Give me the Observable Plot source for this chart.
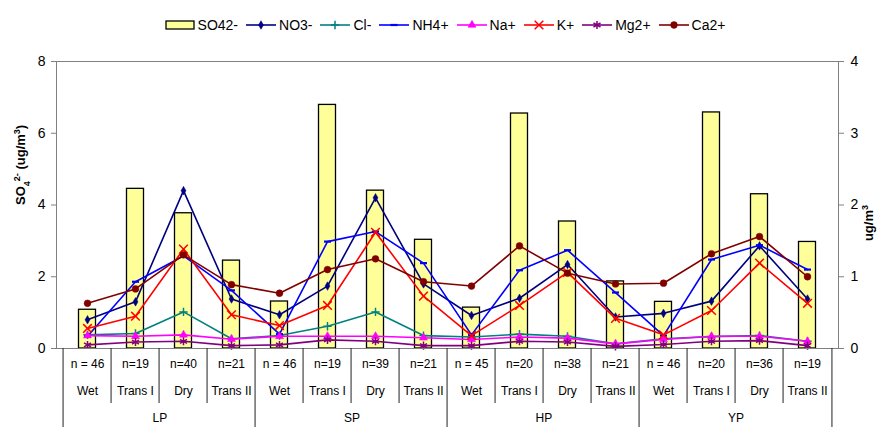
<!DOCTYPE html>
<html><head><meta charset="utf-8">
<script src="https://cdn.jsdelivr.net/npm/d3@7"></script>
<script src="https://cdn.jsdelivr.net/npm/@observablehq/plot@0.6"></script>
<style>
body{margin:0;background:#fff;font-family:"Liberation Sans",Arial,sans-serif;}
#legend{height:45px;display:flex;align-items:center;justify-content:center;padding-left:14px;padding-top:4px;box-sizing:border-box;font-size:14px;color:#000;}
.item{display:flex;align-items:center;margin-right:7px;}
.item svg{margin-right:2px;}
</style></head><body>
<div id="legend"></div>
<div id="chart"></div>
<script>
// ---- data ----
const sites = ["LP", "SP", "HP", "YP"];
const seasons = ["Wet", "Trans I", "Dry", "Trans II"];
const nLabels = ["n = 46","n=19","n=40","n=21","n = 46","n=19","n=39","n=21","n = 45","n=20","n=38","n=21","n = 46","n=20","n=36","n=19"];
const so4  = [1.08, 4.45, 3.77, 2.45, 1.31, 6.79, 4.40, 3.03, 1.14, 6.55, 3.54, 1.87, 1.30, 6.58, 4.30, 2.97];
const no3  = [0.40, 0.65, 2.20, 0.69, 0.47, 0.87, 2.10, 0.90, 0.46, 0.70, 1.17, 0.44, 0.49, 0.66, 1.43, 0.69];
const cl   = [0.19, 0.21, 0.51, 0.135, 0.18, 0.31, 0.51, 0.18, 0.16, 0.20, 0.17, 0.065, 0.135, 0.165, 0.18, 0.10];
const nh4  = [0.17, 0.93, 1.29, 0.81, 0.20, 1.49, 1.63, 1.19, 0.19, 1.09, 1.37, 0.78, 0.18, 1.24, 1.44, 1.10];
const na   = [0.18, 0.17, 0.19, 0.13, 0.17, 0.17, 0.17, 0.15, 0.125, 0.16, 0.145, 0.065, 0.125, 0.17, 0.17, 0.10];
const k    = [0.28, 0.45, 1.385, 0.47, 0.32, 0.60, 1.62, 0.73, 0.18, 0.60, 1.06, 0.42, 0.19, 0.53, 1.19, 0.63];
const mg   = [0.05, 0.09, 0.10, 0.04, 0.05, 0.12, 0.10, 0.04, 0.04, 0.10, 0.09, 0.03, 0.055, 0.10, 0.11, 0.04];
const ca   = [0.63, 0.83, 1.305, 0.89, 0.77, 1.10, 1.25, 0.93, 0.87, 1.43, 1.05, 0.90, 0.91, 1.32, 1.56, 1.00];
const ionNames = ["NO3-", "Cl-", "NH4+", "Na+", "K+", "Mg2+", "Ca2+"];
const ionValues = [no3, cl, nh4, na, k, mg, ca];

// ---- styles ----
const dash = {draw(ctx, size) { const w = Math.sqrt(size) * 0.9; ctx.moveTo(-w, 0); ctx.lineTo(w, 0); }};
const ionStyle = {
  "NO3-": {color: "#000080", symbol: "diamond", d3sym: d3.symbolDiamond, r: 2.6, filled: true},
  "Cl-":  {color: "#008080", symbol: "plus", d3sym: d3.symbolPlus, r: 2.8, filled: false},
  "NH4+": {color: "#0000FF", symbol: dash, d3sym: dash, r: 2.2, filled: false},
  "Na+":  {color: "#FF00FF", symbol: "triangle", d3sym: d3.symbolTriangle, r: 3.0, filled: true},
  "K+":   {color: "#FF0000", symbol: "times", d3sym: d3.symbolTimes, r: 4.0, filled: false},
  "Mg2+": {color: "#800080", symbol: "asterisk", d3sym: d3.symbolAsterisk, r: 3.8, filled: false},
  "Ca2+": {color: "#800000", symbol: "circle", d3sym: d3.symbolCircle, r: 3.4, filled: true}
};

const W = 882, H = 382, mL = 56, mR = 44, mT = 16, mB = 79;
const bw = (W - mL - mR) / 16;

const keys = sites.flatMap(s => seasons.map(se => s + "|" + se));
const rows = keys.map((key, i) => ({key, site: key.split("|")[0], season: key.split("|")[1], n: nLabels[i], so4: so4[i]}));

// ---- legend ----
const legend = d3.select("#legend");
{
  const it = legend.append("div").attr("class", "item");
  const s = it.append("svg").attr("width", 32).attr("height", 14);
  s.append("rect").attr("x", 2).attr("y", 3).attr("width", 28).attr("height", 8)
    .attr("fill", "#FFFF99").attr("stroke", "#000").attr("stroke-width", 1.3);
  it.append("span").text("SO42-");
}
ionNames.forEach(name => {
  const st = ionStyle[name];
  const it = legend.append("div").attr("class", "item");
  const s = it.append("svg").attr("width", 32).attr("height", 14);
  s.append("line").attr("x1", 1).attr("x2", 31).attr("y1", 7).attr("y2", 7)
    .attr("stroke", st.color).attr("stroke-width", 1.6);
  s.append("path").attr("transform", "translate(16,7)")
    .attr("d", d3.symbol(st.d3sym, Math.PI * st.r * st.r)())
    .attr("fill", st.filled ? st.color : "none")
    .attr("stroke", st.color).attr("stroke-width", st.filled ? 0.5 : (name === "NH4+" ? 2.2 : 1.5));
  it.append("span").text(name);
});

// ---- chart ----
const ionMarks = ionNames.flatMap((name, j) => {
  const st = ionStyle[name];
  const d = keys.map((key, i) => ({key, v: ionValues[j][i]}));
  return [
    Plot.line(d, {x: "key", y: r => r.v * 2, stroke: st.color, strokeWidth: 1.6}),
    Plot.dot(d, {x: "key", y: r => r.v * 2, symbol: st.symbol, r: st.r,
      fill: st.filled ? st.color : "none", stroke: st.color,
      strokeWidth: st.filled ? 0.5 : (name === "NH4+" ? 2.2 : 1.5)})
  ];
});

const chart = Plot.plot({
  width: W, height: H,
  marginTop: mT, marginBottom: mB, marginLeft: mL, marginRight: mR,
  x: {type: "band", domain: keys, padding: 0, axis: null},
  y: {domain: [0, 8]},
  style: {fontFamily: "'Liberation Sans', Arial, sans-serif", fontSize: "12px", color: "#000", background: "#fff"},
  marks: [
    Plot.barY(rows, {x: "key", y: "so4", fill: "#FFFF99", stroke: "#000", strokeWidth: 1.3, insetLeft: 15.5, insetRight: 15.5}),
    ...ionMarks,
    Plot.frame({stroke: "#808080"}),
    Plot.axisY({anchor: "left", ticks: [0, 2, 4, 6, 8], tickSize: 5, tickPadding: 6, fontSize: 14, stroke: "#808080", fill: "#000", label: null}),
    Plot.axisY({anchor: "right", ticks: [0, 2, 4, 6, 8], tickFormat: d => String(d / 2), tickSize: 5, tickPadding: 7, fontSize: 14, stroke: "#808080", fill: "#000", label: null}),
    // axis titles
    Plot.text(["SO4 2- (ug/m3)"], {frameAnchor: "left", rotate: -90, dx: -36, fontSize: 13, fontWeight: "bold"}),
    Plot.text(["ug/m3"], {frameAnchor: "right", rotate: -90, dx: 30, fontSize: 13, fontWeight: "bold"}),
    // category table
    Plot.ruleX(rows.filter(r => r.season !== "Wet"), {x: "key", dx: -bw / 2, y1: 0, y2: 0, insetBottom: -55, stroke: "#222"}),
    Plot.ruleX(rows.filter(r => r.season === "Wet"), {x: "key", dx: -bw / 2, y1: 0, y2: 0, insetBottom: -79, stroke: "#222"}),
    Plot.ruleX(rows.slice(-1), {x: "key", dx: bw / 2, y1: 0, y2: 0, insetBottom: -79, stroke: "#222"}),
    Plot.text(rows, {x: "key", text: "n", frameAnchor: "bottom", dy: 19, fontSize: 12}),
    Plot.text(rows, {x: "key", text: "season", frameAnchor: "bottom", dy: 46, fontSize: 12}),
    Plot.text(rows.filter(r => r.season === "Trans I"), {x: "key", text: "site", frameAnchor: "bottom", dx: bw / 2, dy: 73, fontSize: 12})
  ]
});
document.getElementById("chart").appendChild(chart);

// superscripts / subscripts in axis titles
d3.select(chart).selectAll("text").each(function() {
  const t = d3.select(this);
  const s = this.textContent;
  if (s === "SO4 2- (ug/m3)") {
    t.text(null);
    t.append("tspan").text("SO");
    t.append("tspan").attr("baseline-shift", "sub").attr("font-size", 9).text("4");
    t.append("tspan").attr("baseline-shift", "super").attr("font-size", 9).text("2-");
    t.append("tspan").text(" (ug/m");
    t.append("tspan").attr("baseline-shift", "super").attr("font-size", 9).text("3");
    t.append("tspan").text(")");
  } else if (s === "ug/m3") {
    t.text(null);
    t.append("tspan").text("ug/m");
    t.append("tspan").attr("baseline-shift", "super").attr("font-size", 9).text("3");
  }
});
</script>
</body></html>
